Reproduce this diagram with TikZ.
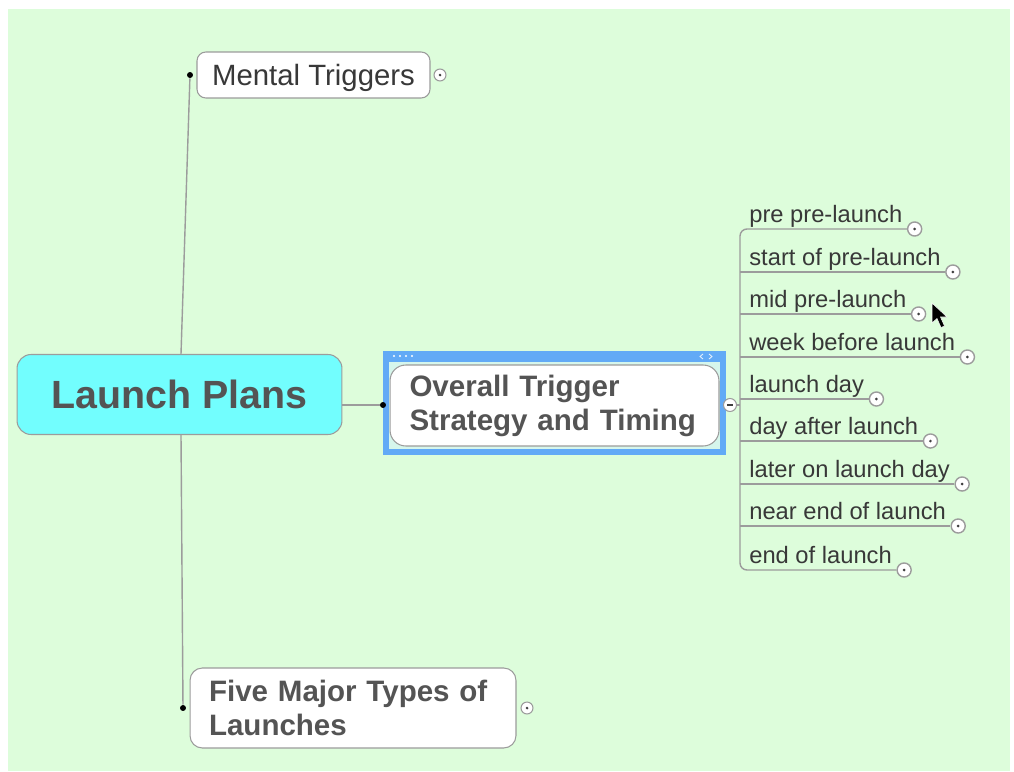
\documentclass[tikz,border=0pt]{standalone}
\usepackage{fontspec}
\setmainfont{Liberation Sans}
\usepackage{tikz}
\usepackage{xcolor}

\definecolor{mapbg}{HTML}{DDFDDB}
\definecolor{rootcyan}{HTML}{72FEFE}
\definecolor{selblue}{HTML}{62AAF6}
\definecolor{selinner}{HTML}{D6F6EC}
\definecolor{linegray}{HTML}{9C9C9C}
\definecolor{textgray}{HTML}{383838}
\definecolor{boldgray}{HTML}{545454}

\tikzset{
  topic/.style={draw=linegray, line width=0.6pt, fill=white, rounded corners=5pt},
  bigtopic/.style={topic, align=left, inner ysep=0pt, text=boldgray,
    font=\fontsize{16.8}{19.3}\selectfont\bfseries},
  subtopic/.style={anchor=base west, inner sep=0pt, text=textgray,
    font=\fontsize{13.5}{16}\selectfont},
  expander/.style={circle, draw=linegray, fill=white, line width=0.6pt,
    inner sep=0pt, minimum size=6.8pt,
    path picture={\fill[black!75] (path picture bounding box.center) circle (0.85pt);}},
  subexpander/.style={expander, minimum size=8pt, line width=0.8pt},
  collapser/.style={expander, minimum size=7.4pt,
    path picture={\draw[black!75, line width=0.7pt] ([xshift=-1.6pt]path picture bounding box.center) -- ([xshift=1.6pt]path picture bounding box.center);}},
  joint/.style={circle, fill=black, inner sep=0pt, minimum size=3.4pt},
  link/.style={draw=linegray, line width=0.8pt},
}

\begin{document}
\begin{tikzpicture}[x=0.02cm, y=-0.02cm]
\useasboundingbox (0,0) rectangle (1014,771);
\fill[white] (0,0) rectangle (1014,771);
\fill[mapbg] (8,9) rectangle (1010,771);

% central topic
\node[topic, fill=rootcyan, rounded corners=8pt, minimum width=6.5cm, minimum height=1.6cm,
  text=boldgray, font=\fontsize{22.4}{26}\selectfont\bfseries] (root) at (179.5,394.5) {Launch Plans};

% main topics
\node[topic, minimum width=4.66cm, minimum height=0.92cm, text depth=0pt, text=textgray,
  font=\fontsize{16.7}{19}\selectfont] (mental) at (313.5,75) {Mental Triggers};
\node[joint] (jm) at (190,75) {};
\node[expander] (em) at (440,75) {};

% selected topic
\fill[selblue] (383,351) rectangle (726,455);
\fill[selinner] (389,362) rectangle (720,449);
\fill[white] (394,356) circle (1.2) (400,356) circle (1.2) (406,356) circle (1.2) (412,356) circle (1.2);
\draw[white!80!selblue, line width=0.5pt] (703,354) -- (700,356.5) -- (703,359) (709,354) -- (712,356.5) -- (709,359);
\node[bigtopic, rounded corners=9pt, text width=5.8cm, inner xsep=0.39cm, minimum height=1.62cm]
  (overall) at (554.5,405.5) {Overall Trigger\\Strategy and Timing};
\node[joint] (jo) at (383,405) {};
\node[collapser] (ec) at (730,405) {};

\node[bigtopic, rounded corners=7pt, text width=5.76cm, inner xsep=0.38cm, minimum height=1.6cm]
  (five) at (353,708) {Five Major Types of\\Launches};
\node[joint] (jf) at (183,708) {};
\node[expander] (ef) at (527,708) {};

\draw[link] ([xshift=1.5*0.02cm]root.north) -- (jm);
\draw[link] ([xshift=1.5*0.02cm]root.south) -- (jf);
\draw[link] (root.east |- jo) -- (jo);

% timing subtopics
\node[subtopic] (t1) at (749,222) {pre pre-launch};
\node[subtopic] (t2) at (749,265) {start of pre-launch};
\node[subtopic] (t3) at (749,307) {mid pre-launch};
\node[subtopic] (t4) at (749,350) {week before launch};
\node[subtopic] (t5) at (749,392) {launch day};
\node[subtopic] (t6) at (749,434) {day after launch};
\node[subtopic] (t7) at (749,477) {later on launch day};
\node[subtopic] (t8) at (749,519) {near end of launch};
\node[subtopic] (t9) at (749,563) {end of launch};

\path (t1.base east) ++(12,7) node[subexpander] (e1) {};
\path (t2.base east) ++(12,7) node[subexpander] (e2) {};
\path (t3.base east) ++(12,7) node[subexpander] (e3) {};
\path (t4.base east) ++(12,7) node[subexpander] (e4) {};
\path (t5.base east) ++(12,7) node[subexpander] (e5) {};
\path (t6.base east) ++(12,7) node[subexpander] (e6) {};
\path (t7.base east) ++(12,7) node[subexpander] (e7) {};
\path (t8.base east) ++(12,7) node[subexpander] (e8) {};
\path (t9.base east) ++(12,7) node[subexpander] (e9) {};

\coordinate (bustop) at (740,229);
\coordinate (busbot) at (740,570);
\draw[link, rounded corners=4pt] (e1.west) -- (bustop) -- (busbot) -- (e9.west);
\draw[link] (ec) -- (bustop |- ec);
\draw[link] (bustop |- e2.west) -- (e2.west);
\draw[link] (bustop |- e3.west) -- (e3.west);
\draw[link] (bustop |- e4.west) -- (e4.west);
\draw[link] (bustop |- e5.west) -- (e5.west);
\draw[link] (bustop |- e6.west) -- (e6.west);
\draw[link] (bustop |- e7.west) -- (e7.west);
\draw[link] (bustop |- e8.west) -- (e8.west);

% pointer
\filldraw[fill=black, draw=white, line width=0.3pt] (932,303) -- (932,323) -- (937,318.5) -- (941,327.5) -- (944.5,326) -- (940.5,317) -- (947,317) -- cycle;
\end{tikzpicture}
\end{document}
